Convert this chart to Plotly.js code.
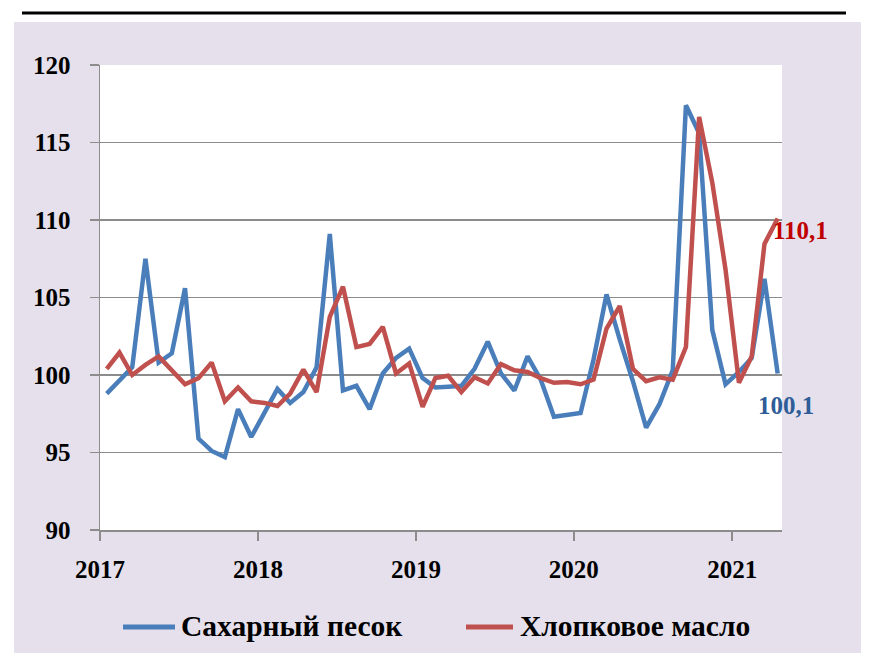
<!DOCTYPE html>
<html>
<head>
<meta charset="utf-8">
<script src="https://cdn.plot.ly/plotly-3.0.1.min.js"></script>
<style>html,body{margin:0;padding:0;background:#fff;}#chart{width:873px;height:653px;}</style>
</head>
<body>
<div id="chart"></div>
<script>
// Monthly categories, Jan 2017 .. Apr 2021
var months = [
  '2017-01','2017-02','2017-03','2017-04','2017-05','2017-06','2017-07','2017-08','2017-09','2017-10','2017-11','2017-12',
  '2018-01','2018-02','2018-03','2018-04','2018-05','2018-06','2018-07','2018-08','2018-09','2018-10','2018-11','2018-12',
  '2019-01','2019-02','2019-03','2019-04','2019-05','2019-06','2019-07','2019-08','2019-09','2019-10','2019-11','2019-12',
  '2020-01','2020-02','2020-03','2020-04','2020-05','2020-06','2020-07','2020-08','2020-09','2020-10','2020-11','2020-12',
  '2021-01','2021-02','2021-03','2021-04'
];
var sugarName = 'Сахарный песок';
var sugar = [
  98.8, 99.6, 100.5, 107.5, 100.8, 101.4, 105.6, 95.9, 95.1, 94.7, 97.8, 96.0,
  97.6, 99.1, 98.2, 98.9, 100.5, 109.1, 99.0, 99.3, 97.8, 100.1, 101.1, 101.7,
  99.8, 99.2, 99.25, 99.3, 100.4, 102.15, 100.1, 99.0, 101.2, 99.7, 97.3, 97.4,
  97.55, 101.0, 105.2, 102.3, 99.6, 96.6, 98.1, 100.3, 117.4, 115.6, 102.9, 99.4,
  100.2, 101.1, 106.2, 100.1
];
var cottonName = 'Хлопковое масло';
var cotton = [
  100.4, 101.45, 100.0, 100.65, 101.2, 100.3, 99.4, 99.8, 100.8, 98.3, 99.2, 98.3,
  98.2, 98.0, 98.8, 100.35, 98.9, 103.75, 105.7, 101.8, 102.0, 103.1, 100.1, 100.75,
  97.95, 99.8, 99.95, 98.9, 99.85, 99.45, 100.7, 100.3, 100.2, 99.8, 99.5, 99.55,
  99.4, 99.7, 103.0, 104.45, 100.4, 99.6, 99.85, 99.7, 101.8, 116.65, 112.4, 106.8,
  99.5, 101.2, 108.45, 110.1
];
var sugarLabel = '100,1';
var cottonLabel = '110,1';

var blue = '#4A7EBB', red = '#C0504D';
var serif = 'Liberation Serif, Times New Roman, serif';
var last = months.length - 1;

var traces = [
  {x: months, y: sugar, name: sugarName, type: 'scatter', mode: 'lines',
   xperiod: 'M1', xperiodalignment: 'middle',
   line: {color: blue, width: 4.5}},
  {x: months, y: cotton, name: cottonName, type: 'scatter', mode: 'lines',
   xperiod: 'M1', xperiodalignment: 'middle',
   line: {color: red, width: 4.5}}
];

function py(p) { return (530 - p) / 465; }
function px(p) { return (p - 100) / 682; }

var layout = {
  width: 873, height: 653,
  margin: {l: 100, r: 91, t: 65, b: 123, pad: 0},
  paper_bgcolor: '#ffffff',
  plot_bgcolor: 'rgba(0,0,0,0)',
  showlegend: false,
  xaxis: {
    type: 'date', range: ['2017-01-01', '2021-04-26'],
    tick0: '2017-01-01', dtick: 'M12', tickformat: '%Y',
    showgrid: false, zeroline: false,
    showline: true, linecolor: '#8C8C8C', linewidth: 1.5,
    ticks: 'outside', ticklen: 9, tickwidth: 1.5, tickcolor: '#8C8C8C',
    ticklabelstandoff: 7,
    tickfont: {family: serif, size: 25, color: '#000', weight: 'bold'}
  },
  yaxis: {
    range: [90, 120], dtick: 5, tick0: 90,
    showgrid: true, gridcolor: '#8C8C8C', gridwidth: 1.5, zeroline: false,
    showline: true, linecolor: '#8C8C8C', linewidth: 1.5,
    ticks: 'outside', ticklen: 9, tickwidth: 1.5, tickcolor: '#8C8C8C',
    ticklabelstandoff: 14,
    tickfont: {family: serif, size: 25, color: '#000', weight: 'bold'}
  },
  shapes: [
    {type: 'rect', xref: 'paper', yref: 'paper', layer: 'below',
     x0: px(14), x1: px(861), y0: py(653), y1: py(22),
     fillcolor: '#E5E0EC', line: {width: 0}},
    {type: 'rect', xref: 'paper', yref: 'paper', layer: 'below',
     x0: 0, x1: 1, y0: 0, y1: 1, fillcolor: '#ffffff', line: {width: 0}},
    {type: 'line', xref: 'paper', yref: 'paper',
     x0: px(22), x1: px(846), y0: py(12.9), y1: py(12.9),
     line: {color: '#000', width: 3}},
    {type: 'line', xref: 'paper', yref: 'paper',
     x0: px(123), x1: px(175), y0: py(627), y1: py(627),
     line: {color: blue, width: 5}},
    {type: 'line', xref: 'paper', yref: 'paper',
     x0: px(466), x1: px(513), y0: py(627), y1: py(627),
     line: {color: red, width: 5}}
  ],
  annotations: [
    {xref: 'x', yref: 'y', x: '2021-04-16', y: cotton[last], text: cottonLabel,
     showarrow: false, xanchor: 'left', yanchor: 'middle', xshift: -7, yshift: -12,
     font: {family: serif, size: 25, color: '#C00000', weight: 'bold'}},
    {xref: 'x', yref: 'y', x: '2021-04-16', y: sugar[last], text: sugarLabel,
     showarrow: false, xanchor: 'left', yanchor: 'middle', xshift: -22, yshift: -32,
     font: {family: serif, size: 25, color: '#2F5D97', weight: 'bold'}},
    {xref: 'paper', yref: 'paper', x: px(179), y: py(626), text: sugarName,
     showarrow: false, xanchor: 'left', yanchor: 'middle',
     font: {family: serif, size: 29.5, color: '#000', weight: 'bold'}},
    {xref: 'paper', yref: 'paper', x: px(518), y: py(626), text: cottonName,
     showarrow: false, xanchor: 'left', yanchor: 'middle',
     font: {family: serif, size: 29.5, color: '#000', weight: 'bold'}}
  ]
};

Plotly.newPlot('chart', traces, layout, {staticPlot: true, displayModeBar: false});
</script>
</body>
</html>
